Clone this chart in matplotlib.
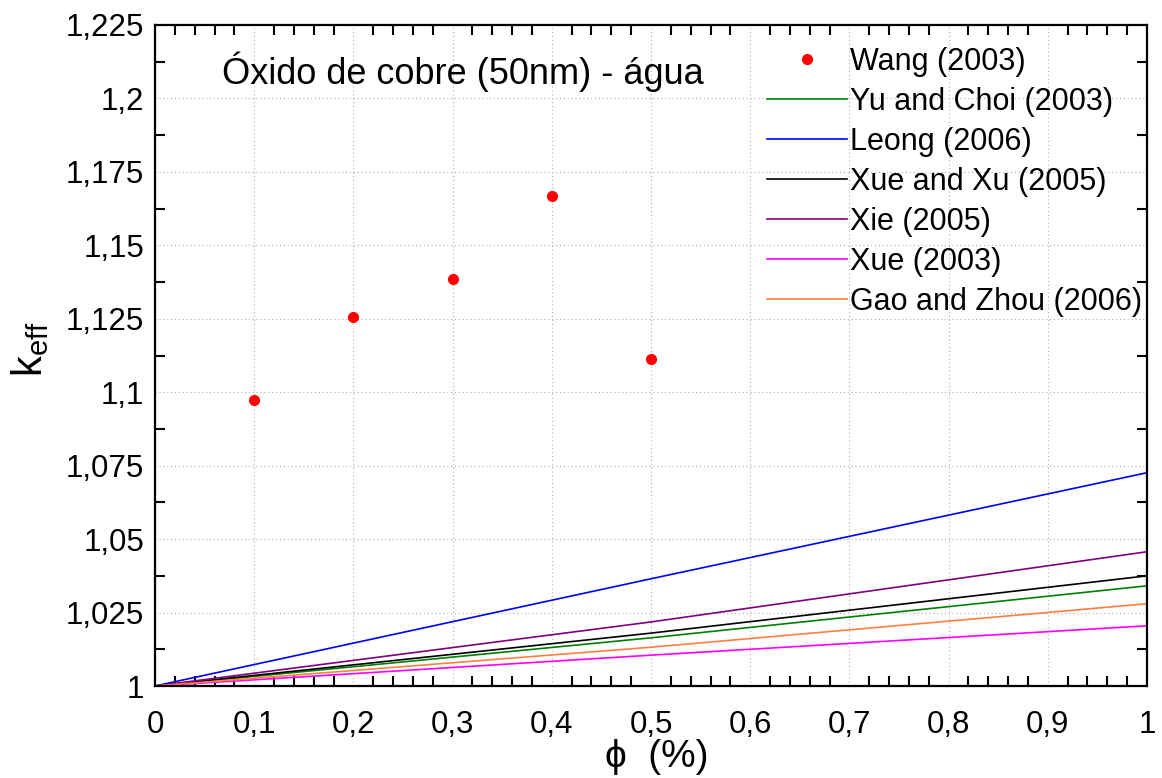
import matplotlib
matplotlib.use("Agg")
import matplotlib.pyplot as plt
from matplotlib.ticker import FixedLocator
import numpy as np

plt.rcParams['font.family'] = ['Liberation Sans', 'DejaVu Sans']
plt.rcParams['mathtext.default'] = 'regular'

# ---- data ----
wang_x = [0.1, 0.2, 0.3, 0.4, 0.5]
wang_y = [1.0972, 1.1255, 1.1384, 1.1668, 1.1112]

model_x = [0.0, 0.5, 1.0]
yu_choi = [1.0, 1.0164, 1.0341]
leong = [1.0, 1.0365, 1.0726]
xue_xu = [1.0, 1.0180, 1.0375]
xie = [1.0, 1.0218, 1.0457]
xue = [1.0, 1.0105, 1.0205]
gao_zhou = [1.0, 1.0132, 1.0280]

y_ticks = [1.0, 1.025, 1.05, 1.075, 1.1, 1.125, 1.15, 1.175, 1.2, 1.225]
y_ticklabels = ['1', '1,025', '1,05', '1,075', '1,1', '1,125', '1,15', '1,175', '1,2', '1,225']
x_ticks = [0, 0.1, 0.2, 0.3, 0.4, 0.5, 0.6, 0.7, 0.8, 0.9, 1.0]
x_ticklabels = ['0', '0,1', '0,2', '0,3', '0,4', '0,5', '0,6', '0,7', '0,8', '0,9', '1']

title_text = 'Óxido de cobre (50nm) - água'

fig = plt.figure(figsize=(11.62, 7.78), dpi=100)
ax = fig.add_axes([155/1162, 1-686/778, (1147-155)/1162, (686-25)/778])

lw = 1.2
ax.plot(wang_x, wang_y, 'o', color='#ff0000', markersize=7, label='Wang (2003)', zorder=5)
ax.plot(model_x, yu_choi, color='#008000', lw=lw, label='Yu and Choi (2003)')
ax.plot(model_x, leong, color='#0000ff', lw=lw, label='Leong (2006)')
ax.plot(model_x, xue_xu, color='#000000', lw=lw, label='Xue and Xu (2005)')
ax.plot(model_x, xie, color='#800080', lw=lw, label='Xie (2005)')
ax.plot(model_x, xue, color='#ff00ff', lw=lw, label='Xue (2003)')
ax.plot(model_x, gao_zhou, color='#ff7f3f', lw=lw, label='Gao and Zhou (2006)')

ax.set_xlim(0, 1)
ax.set_ylim(1.0, 1.225)

ax.set_xticks(x_ticks)
ax.set_xticklabels(x_ticklabels)
ax.set_yticks(y_ticks)
ax.set_yticklabels(y_ticklabels)

xminor = [v for v in np.arange(0.02, 1.0, 0.02) if abs(v*10 - round(v*10)) > 1e-6]
ax.xaxis.set_minor_locator(FixedLocator(xminor))
yminor = [1.0125 + 0.025*i for i in range(9)]
ax.yaxis.set_minor_locator(FixedLocator(yminor))

ax.tick_params(which='major', direction='in', length=0, labelsize=22.5, top=True, right=True)
ax.tick_params(axis='x', which='major', pad=17)
ax.tick_params(axis='y', which='major', pad=8)
ax.tick_params(which='minor', direction='in', length=7, width=1.5, top=True, right=True)

ax.grid(True, which='major', linestyle=(0, (1, 2.5)), color='#b0b0b0', linewidth=0.8)

for s in ax.spines.values():
    s.set_linewidth(1.6)

ax.text(0.068, 0.93, title_text, transform=ax.transAxes, fontsize=26, ha='left', va='center')

ax.set_xlabel('ϕ  (%)', fontsize=28, labelpad=0)
ax.xaxis.set_label_coords(0.506, -0.08)
ax.set_ylabel('k$_{eff}$', fontsize=30, rotation=90, ha='center', va='center')
ax.yaxis.set_label_coords(-0.126, 0.51)

leg = ax.legend(loc='upper right', bbox_to_anchor=(0.998, 0.972), frameon=False, fontsize=22,
                handlelength=2.6, handletextpad=0.1, labelspacing=0.33, borderaxespad=0,
                borderpad=0.1, markerfirst=True)

fig.savefig('out.png', dpi=100)
